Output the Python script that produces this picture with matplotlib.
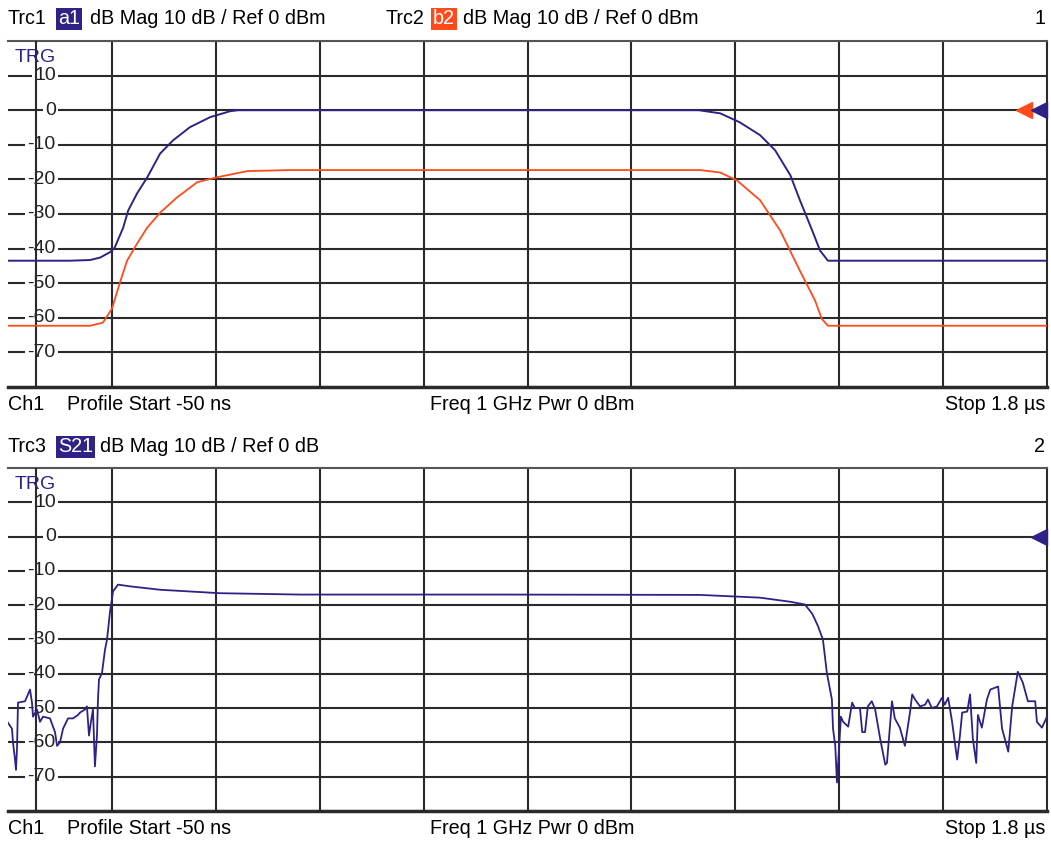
import matplotlib
matplotlib.use("Agg")
import matplotlib.pyplot as plt
import matplotlib.transforms as mtransforms
from matplotlib import font_manager

# ---------------- data (time in ns, level in dB) ----------------
x_start_ns = -50
x_stop_ns = 1800
y_min, y_max = -80, 20
y_tick_values = [10, 0, -10, -20, -30, -40, -50, -60, -70]
x_grid_ns = [135, 320, 505, 690, 875, 1060, 1245, 1430, 1615]

a1_t = [-50, 60, 96, 114, 132, 140, 155, 164, 180, 198, 221, 244, 274, 310, 333, 345, 360,
        1180, 1218, 1253, 1289, 1316, 1343, 1360, 1382, 1396, 1410, 1800]
a1_db = [-43.5, -43.5, -43.3, -42.6, -41, -39.7, -34, -29, -24, -19.4, -12.5, -8.7, -4.9, -2, -0.9, -0.3, 0,
         0, -0.9, -3.5, -7.2, -11.6, -18.8, -26, -34.8, -40.6, -43.5, -43.5]

b2_t = [-50, 96, 119, 135, 149, 162, 180, 198, 221, 251, 287, 322, 376, 452,
        1182, 1218, 1248, 1289, 1325, 1360, 1387, 1399, 1410, 1800]
b2_db = [-62.3, -62.3, -61.4, -57.4, -50, -43.5, -38.5, -33.9, -29.6, -25.2, -20.8, -19.4, -17.6, -17.3,
         -17.3, -18, -20.3, -26, -34.8, -46.4, -55, -60.3, -62.3, -62.3]

s21_t = [-50, -42.9, -41.1, -37.5, -35.8, -34, -32.2, -19.7, -14.4, -10.8, -7.3, -5.5, 1.6, 7, 12.3,
         24.8, 33.7, 37.3, 42.6, 48, 56.9, 65.7, 74.6, 78.2, 87.1, 90.6, 94.2, 97.7, 101.3, 104.8,
         108.4, 110.2, 112, 117.4, 122.7, 126.3, 131.6, 137, 145.9,
         167, 221, 327, 470, 826, 1182, 1289, 1343, 1369, 1382, 1392,
         1401, 1408, 1417, 1419, 1423, 1426, 1430, 1433, 1437, 1446, 1453, 1458, 1467, 1471, 1476,
         1481, 1488, 1494, 1503, 1512, 1515, 1524, 1529, 1538, 1547, 1556, 1560, 1565, 1574, 1583,
         1588, 1595, 1604, 1613, 1618, 1624, 1631, 1640, 1645, 1649, 1658, 1663, 1668, 1674, 1677,
         1684, 1693, 1699, 1713, 1720, 1725, 1731, 1738, 1748, 1757, 1766, 1779, 1782, 1791, 1800]
s21_db = [-54.3, -56, -60, -65, -68, -62, -48.4, -48, -46, -44.6, -48.4, -52.5, -50.4, -54, -52.5,
          -53, -57, -61, -60, -56, -53, -53, -52, -51.3, -50.4, -49.5, -58, -54, -50.4, -67,
          -58, -47.5, -41.7, -39.7, -33, -30, -22, -16, -14,
          -14.5, -15.5, -16.5, -16.9, -16.9, -17.0, -17.8, -19, -19.8, -22.5, -26,
          -30, -39.7, -47.5, -56, -61, -71.7, -61, -52.5, -54, -55.4, -48.4, -50, -50, -57, -57,
          -49.5, -48, -50.4, -59, -66.5, -66, -48, -53, -55.7, -61, -51.3, -46, -47.5, -49.5, -49,
          -47.5, -50, -49.5, -47, -49, -47, -54, -65, -58, -51.3, -51, -46, -59, -66, -52,
          -55.7, -47.5, -44.6, -43.7, -56, -59, -62.7, -49.5, -39.4, -42.6, -48, -48, -54, -55.7, -52.5]

# ---------------- style ----------------
names = {f.name for f in font_manager.fontManager.ttflist}
FONT = "Liberation Sans Narrow" if "Liberation Sans Narrow" in names else "Liberation Sans"
plt.rcParams["font.family"] = [FONT, "DejaVu Sans"]

BLUE = "#2f2287"
ORANGE = "#ff4b1c"
GRID = "#2a2a2a"
W, H = 1051, 844

fig = plt.figure(figsize=(W / 100, H / 100), dpi=100)
fig.patch.set_facecolor("white")


def fx(px):
    return px / W


def fy(py):
    return 1 - py / H


def setup(ax):
    ax.set_xlim(x_start_ns, x_stop_ns)
    ax.set_ylim(y_min, y_max)
    ax.set_xticks(x_grid_ns)
    ax.set_yticks(y_tick_values)
    ax.grid(True, color=GRID, lw=1.5, zorder=1)
    ax.tick_params(length=0, labelleft=False, labelbottom=False)
    ax.spines["left"].set_visible(False)
    ax.spines["right"].set_color(GRID)
    ax.spines["right"].set_linewidth(1.5)
    ax.spines["top"].set_color("#555555")
    ax.spines["top"].set_linewidth(1.5)
    ax.spines["bottom"].set_color(GRID)
    ax.spines["bottom"].set_linewidth(2.5)
    ax.set_axisbelow(True)
    # t = 0 line
    ax.axvline(0, color=GRID, lw=1.5, zorder=6)
    tr = mtransforms.blended_transform_factory(ax.transAxes, ax.transData)
    for v in y_tick_values:
        ax.text(0.046, v, str(v), transform=tr, ha="right", va="center", fontsize=14,
                color="#222222", zorder=5,
                bbox=dict(boxstyle="square,pad=0.12", fc="white", ec="none"))
    ax.text(0.006, 15.2, "TRG", transform=tr, ha="left", va="center", fontsize=14,
            color=BLUE, zorder=7)
    return tr


ax1 = fig.add_axes([fx(8), fy(387), fx(1047) - fx(8), fy(41) - fy(387)])
tr1 = setup(ax1)
ax1.plot(b2_t, b2_db, color=ORANGE, lw=1.3, zorder=7)
ax1.plot(a1_t, a1_db, color=BLUE, lw=1.4, zorder=7)
ax1.plot([0.978], [0], transform=tr1, marker="<", ms=12, color=ORANGE, zorder=8, clip_on=False)
ax1.plot([0.992], [0], transform=tr1, marker="<", ms=12, color=BLUE, zorder=8, clip_on=False)

ax2 = fig.add_axes([fx(8), fy(811), fx(1047) - fx(8), fy(468) - fy(811)])
tr2 = setup(ax2)
ax2.plot(s21_t, s21_db, color=BLUE, lw=1.3, zorder=7)
ax2.plot([0.992], [0], transform=tr2, marker="<", ms=12, color=BLUE, zorder=8, clip_on=False)

HFS = 14.2
# headers
y1 = fy(19)
fig.text(fx(8), y1, "Trc1", fontsize=HFS, va="center", ha="left")
fig.text(fx(58), y1, "a1", fontsize=HFS, va="center", ha="left", color="white",
         bbox=dict(boxstyle="square,pad=0.1", fc=BLUE, ec="none"))
fig.text(fx(90), y1, "dB Mag 10 dB / Ref 0 dBm", fontsize=HFS, va="center", ha="left")
fig.text(fx(385), y1, "Trc2", fontsize=HFS, va="center", ha="left")
fig.text(fx(433), y1, "b2", fontsize=HFS, va="center", ha="left", color="white",
         bbox=dict(boxstyle="square,pad=0.1", fc=ORANGE, ec="none"))
fig.text(fx(463), y1, "dB Mag 10 dB / Ref 0 dBm", fontsize=HFS, va="center", ha="left")
fig.text(fx(1045), y1, "1", fontsize=HFS, va="center", ha="right")

y2 = fy(447)
fig.text(fx(8), y2, "Trc3", fontsize=HFS, va="center", ha="left")
fig.text(fx(58), y2, "S21", fontsize=HFS, va="center", ha="left", color="white",
         bbox=dict(boxstyle="square,pad=0.1", fc=BLUE, ec="none"))
fig.text(fx(100), y2, "dB Mag 10 dB / Ref 0 dB", fontsize=HFS, va="center", ha="left")
fig.text(fx(1045), y2, "2", fontsize=HFS, va="center", ha="right")

# footers
for yy in (fy(405), fy(829)):
    fig.text(fx(8), yy, "Ch1", fontsize=HFS, va="center", ha="left")
    fig.text(fx(67), yy, "Profile Start -50 ns", fontsize=HFS, va="center", ha="left")
    fig.text(fx(430), yy, "Freq 1 GHz Pwr 0 dBm", fontsize=HFS, va="center", ha="left")
    fig.text(fx(1045), yy, "Stop 1.8 µs", fontsize=HFS, va="center", ha="right")

fig.savefig("out.png", dpi=100, facecolor="white")
